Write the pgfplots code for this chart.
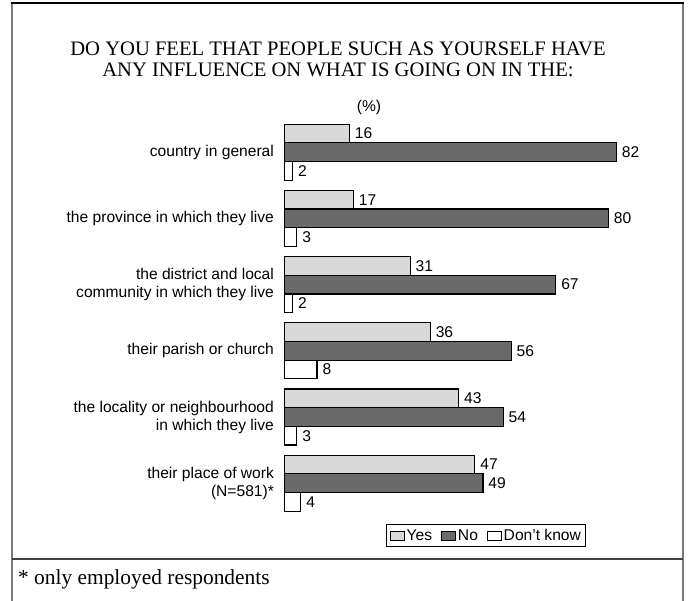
\documentclass[border=0pt]{standalone}
\usepackage{fontspec}
\setmainfont{Liberation Serif}
\setsansfont{Liberation Sans}
\usepackage{pgfplots}
\pgfplotsset{compat=1.18}
\definecolor{yescol}{HTML}{D8D8D8}
\definecolor{nocol}{HTML}{6A6A6A}
\definecolor{framegray}{HTML}{7A7A7A}
\newcommand{\sfv}{\sffamily\fontsize{15.6}{18}\selectfont}
\pgfplotsset{mybox/.style={legend image code/.code={\draw[##1,line width=1pt] (0pt,-4.6pt) rectangle (14.3pt,4.6pt);}}}
\begin{document}
\begin{tikzpicture}
\useasboundingbox (0,0) rectangle (688pt,601pt);
% frame
\draw[framegray,line width=2pt] (11.7pt,0pt) -- (11.7pt,598pt);
\draw[framegray,line width=2pt] (683.3pt,0pt) -- (683.3pt,598pt);
\draw[black,line width=1.6pt] (10.7pt,598pt) -- (684.3pt,598pt);
\draw[black!75,line width=1.2pt] (11.7pt,42pt) -- (683.3pt,42pt);
% title
\node[anchor=base,font=\fontsize{20.6}{24}\selectfont] at (338pt,545.5pt) {DO YOU FEEL THAT PEOPLE SUCH AS YOURSELF HAVE};
\node[anchor=base,font=\fontsize{20.6}{24}\selectfont] at (338pt,524.5pt) {ANY INFLUENCE ON WHAT IS GOING ON IN THE:};
\node[anchor=base,font=\sfv] at (369pt,489pt) {(\%)};
% footnote
\node[anchor=base west,inner sep=0pt,font=\fontsize{21.4}{24}\selectfont] at (18pt,16pt) {* only employed respondents};
\begin{axis}[
  at={(284.7pt,84.7pt)}, anchor=south west,
  scale only axis, width=364.2pt, height=397.2pt,
  xmin=0, xmax=90, ymin=-0.5, ymax=5.5,
  xbar, bar width=18.7pt,
  axis line style={draw=none},
  major tick style={draw=none},
  xtick=\empty,
  ytick={0,1,2,3,4,5},
  yticklabels={{their place of work\\(N=581)*},{the locality or neighbourhood\\in which they live},{their parish or church},{the district and local\\community in which they live},{the province in which they live},{country in general}},
  yticklabel style={align=right,font=\sfv,xshift=-3pt},
  nodes near coords={\sfv\pgfmathprintnumber[assume math mode=true]{\pgfplotspointmeta}},
  every node near coord/.append style={anchor=west,xshift=1.5pt},
  clip=false,
  legend columns=3,
  legend style={at={(0.278,-0.0205)},anchor=north west,draw=black,line width=1pt,
    font=\sfv,inner xsep=3.5pt,inner ysep=3.5pt,
    /tikz/every odd column/.append style={column sep=0pt},
    /tikz/every even column/.append style={column sep=7.5pt},
    nodes={inner xsep=1.5pt,inner ysep=1pt, line width=0.4pt}},
]
\addplot[fill=yescol,draw=black,line width=1.2pt,bar shift=18.7pt,mybox] coordinates {(47,0) (43,1) (36,2) (31,3) (17,4) (16,5)};
\addplot[fill=nocol,draw=black,line width=1.2pt,bar shift=0pt,mybox] coordinates {(49,0) (54,1) (56,2) (67,3) (80,4) (82,5)};
\addplot[fill=white,draw=black,line width=1.2pt,bar shift=-18.7pt,mybox] coordinates {(4,0) (3,1) (8,2) (2,3) (3,4) (2,5)};
\legend{Yes,No,Don’t know}
\end{axis}
\end{tikzpicture}
\end{document}
